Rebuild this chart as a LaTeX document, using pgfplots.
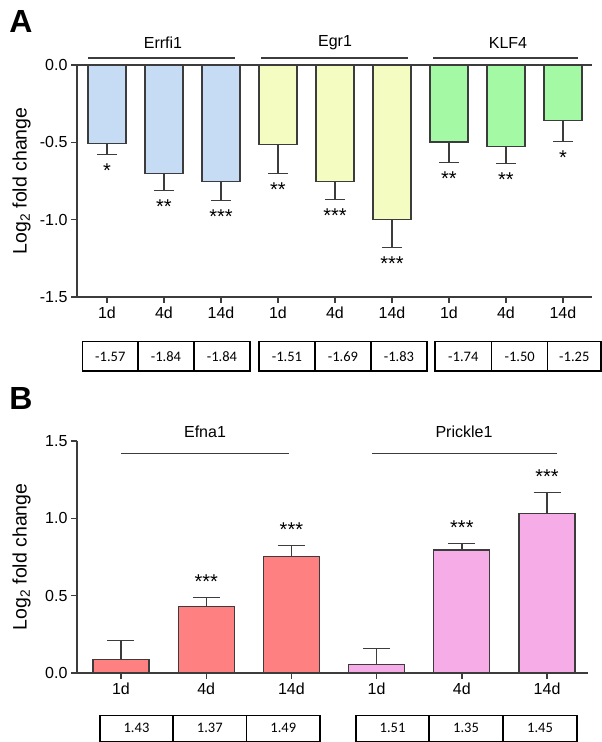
\documentclass[border=0pt]{standalone}
\usepackage{pgfplots}
\pgfplotsset{compat=1.18}
\usepackage{fontspec}
\setmainfont{Liberation Sans}
\newfontfamily\tabfont{Carlito}
\definecolor{cblue}{HTML}{C6DCF5}
\definecolor{cyellow}{HTML}{F4FCC2}
\definecolor{cgreen}{HTML}{A4FAA4}
\definecolor{cred}{HTML}{FF8080}
\definecolor{cpink}{HTML}{F6ACE7}
\definecolor{axgray}{HTML}{3C3C3C}
\pgfplotsset{
  panel/.style={
    scale only axis, clip=false,
    axis x line*=bottom, axis y line*=left,
    axis line style={axgray, line width=1.3pt},
    tick align=outside, major tick length=6pt,
    tick style={axgray, line width=1.3pt},
    ticklabel style={font=\fontsize{16}{19}\selectfont},
    yticklabel style={/pgf/number format/.cd, fixed, fixed zerofill, precision=1, assume math mode=true},
  },
  barA/.style={ybar, bar shift=0pt, bar width=38pt, fill=#1, draw=axgray, line width=1.2pt,
    error bars/y dir=minus, error bars/y explicit,
    error bars/error mark=|,
    error bars/error bar style={line width=1.3pt, axgray},
    error bars/error mark options={line width=1.3pt, axgray, mark size=10pt}},
  barB/.style={ybar, bar shift=0pt, bar width=56pt, fill=#1, draw=axgray, line width=1.2pt,
    error bars/y dir=plus, error bars/y explicit,
    error bars/error mark=|,
    error bars/error bar style={line width=1.3pt, axgray},
    error bars/error mark options={line width=1.3pt, axgray, mark size=13.5pt}},
}
\tikzset{
  starA/.style={anchor=north, inner sep=0pt, yshift=-9pt, font=\fontsize{20}{22}\selectfont},
  starB/.style={anchor=south, inner sep=0pt, yshift=9pt, font=\fontsize{20}{22}\selectfont},
}
\begin{document}
\begin{tikzpicture}[x=1pt,y=1pt]
\path[use as bounding box] (0pt,0pt) rectangle (602pt,742pt);

% ---------------- Panel A ----------------
\begin{axis}[panel,
  at={(77pt,445pt)}, anchor=south west, width=515pt, height=232pt,
  xmin=-0.526, xmax=8.51, ymin=-1.5, ymax=0,
  xtick={0,...,8}, xticklabels={1d,4d,14d,1d,4d,14d,1d,4d,14d},
  ytick={-1.5,-1,-0.5,0},
]
\addplot[barA=cblue] coordinates {(0,-0.505) +- (0,0.075) (1,-0.699) +- (0,0.111) (2,-0.755) +- (0,0.12)};
\addplot[barA=cyellow] coordinates {(3,-0.515) +- (0,0.185) (4,-0.755) +- (0,0.115) (5,-1.0) +- (0,0.18)};
\addplot[barA=cgreen] coordinates {(6,-0.498) +- (0,0.134) (7,-0.526) +- (0,0.11) (8,-0.359) +- (0,0.136)};
\draw[axgray, line width=1.3pt] (rel axis cs:0,1) -- (rel axis cs:1,1);
\node[starA] at (axis cs:0,-0.58) {*};
\node[starA] at (axis cs:1,-0.81) {**};
\node[starA] at (axis cs:2,-0.875) {***};
\node[starA] at (axis cs:3,-0.70) {**};
\node[starA] at (axis cs:4,-0.87) {***};
\node[starA] at (axis cs:5,-1.18) {***};
\node[starA] at (axis cs:6,-0.632) {**};
\node[starA] at (axis cs:7,-0.636) {**};
\node[starA] at (axis cs:8,-0.495) {*};
\end{axis}

% ---------------- Panel B ----------------
\begin{axis}[panel,
  at={(77pt,69pt)}, anchor=south west, width=511pt, height=232pt,
  xmin=-0.516, xmax=5.48, ymin=0, ymax=1.5,
  xtick={0,...,5}, xticklabels={1d,4d,14d,1d,4d,14d},
  ytick={0,0.5,1,1.5},
]
\addplot[barB=cred] coordinates {(0,0.089) +- (0,0.121) (1,0.431) +- (0,0.059) (2,0.753) +- (0,0.072)};
\addplot[barB=cpink] coordinates {(3,0.055) +- (0,0.105) (4,0.795) +- (0,0.041) (5,1.03) +- (0,0.135)};
\node[starB] at (axis cs:1,0.49) {***};
\node[starB] at (axis cs:2,0.825) {***};
\node[starB] at (axis cs:4,0.836) {***};
\node[starB] at (axis cs:5,1.165) {***};
\end{axis}

% ---------------- annotations ----------------
\node[font=\fontsize{32}{35}\selectfont\bfseries] at (21pt,720.5pt) {A};
\node[font=\fontsize{32}{35}\selectfont\bfseries] at (21pt,344pt) {B};

\node[rotate=90, font=\fontsize{19.5}{22}\selectfont] at (21.7pt,561pt) {Log\textsubscript{2} fold change};
\node[rotate=90, font=\fontsize{19.5}{22}\selectfont] at (21.7pt,185pt) {Log\textsubscript{2} fold change};

\begin{scope}[axgray, line width=1.3pt]
\draw (88pt,684pt) -- (235pt,684pt);
\draw (261pt,684pt) -- (408pt,684pt);
\draw (433pt,684pt) -- (578pt,684pt);
\draw (121pt,288.5pt) -- (289pt,288.5pt);
\draw (372pt,288.5pt) -- (557pt,288.5pt);
\end{scope}
\begin{scope}[font=\fontsize{16}{19}\selectfont]
\node at (163pt,699.3pt) {Errfi1};
\node at (335pt,699.3pt) {Egr1};
\node at (508pt,699.3pt) {KLF4};
\node at (205pt,310.3pt) {Efna1};
\node at (464pt,310.3pt) {Prickle1};
\end{scope}

% tables
\begin{scope}[line width=1.4pt, black]
\draw (82.7pt,371pt) rectangle (250pt,400.3pt); \draw (138pt,371pt) -- (138pt,400.3pt); \draw (194pt,371pt) -- (194pt,400.3pt);
\draw (259pt,371pt) rectangle (427pt,400.3pt); \draw (315pt,371pt) -- (315pt,400.3pt); \draw (371pt,371pt) -- (371pt,400.3pt);
\draw (435pt,371pt) rectangle (601pt,400.3pt); \draw (491.7pt,371pt) -- (491.7pt,400.3pt); \draw (547.7pt,371pt) -- (547.7pt,400.3pt);
\draw (100pt,0.7pt) rectangle (320pt,26.3pt); \draw (173pt,0.7pt) -- (173pt,26.3pt); \draw (246.7pt,0.7pt) -- (246.7pt,26.3pt);
\draw (356pt,0.7pt) rectangle (577pt,26.3pt); \draw (429pt,0.7pt) -- (429pt,26.3pt); \draw (503pt,0.7pt) -- (503pt,26.3pt);
\end{scope}
\begin{scope}[font=\tabfont\fontsize{14.5}{16}\selectfont]
\node at (110.3pt,385.6pt) {-1.57};
\node at (166pt,385.6pt) {-1.84};
\node at (222pt,385.6pt) {-1.84};
\node at (287pt,385.6pt) {-1.51};
\node at (343pt,385.6pt) {-1.69};
\node at (399pt,385.6pt) {-1.83};
\node at (463.3pt,385.6pt) {-1.74};
\node at (519.7pt,385.6pt) {-1.50};
\node at (574.3pt,385.6pt) {-1.25};
\node at (136.5pt,14pt) {1.43};
\node at (209.8pt,14pt) {1.37};
\node at (283.3pt,14pt) {1.49};
\node at (392.5pt,14pt) {1.51};
\node at (466pt,14pt) {1.35};
\node at (540pt,14pt) {1.45};
\end{scope}
\end{tikzpicture}
\end{document}
